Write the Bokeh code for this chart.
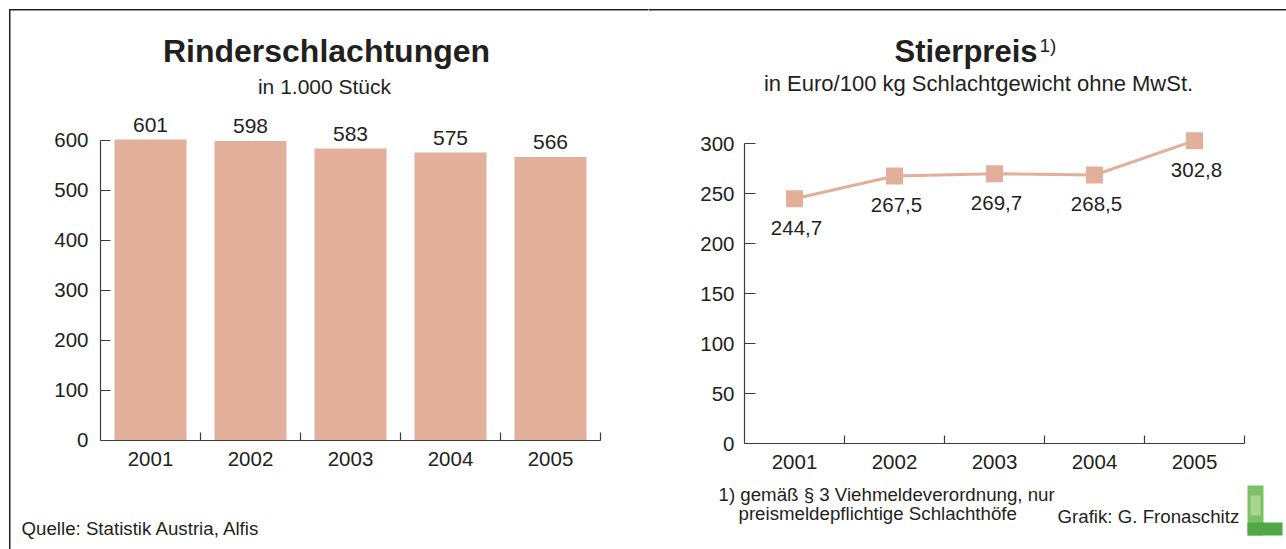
from bokeh.plotting import figure
from bokeh.layouts import row
from bokeh.models import Range1d, FixedTicker, Label, BoxAnnotation
from bokeh.core.properties import value
from bokeh.embed import file_html
from bokeh.resources import INLINE

# ---------------- data ----------------
years = [2001, 2002, 2003, 2004, 2005]
year_labels = ["2001", "2002", "2003", "2004", "2005"]
slaughter = [601, 598, 583, 575, 566]
slaughter_labels = ["601", "598", "583", "575", "566"]
price = [244.7, 267.5, 269.7, 268.5, 302.8]
price_labels = ["244,7", "267,5", "269,7", "268,5", "302,8"]
left_yticks = [0, 100, 200, 300, 400, 500, 600]
right_yticks = [0, 50, 100, 150, 200, 250, 300]

FONT = "Liberation Sans"
TXT = "#231f20"
SALMON = "#e2af9b"
AXIS = "#3d3d3d"
BORDER = "#222222"

PAGE_X0, PAGE_Y0 = 0, 0          # top-left of the layout on the page (Bokeh page has no body margin)
H = 549                          # figure height
W1, W2 = 648, 638                # figure widths


def make_fig(width, canvas_left, plot_left, plot_right, y0_page, px_per_unit):
    """Frame covers the whole canvas; ranges chosen so that the chart area
    (years[0]-0.5 .. years[-1]+0.5) sits between plot_left and plot_right (page px)."""
    xs = (plot_right - plot_left) / (len(years))           # px per year
    x_lo = years[0] - 0.5 - (plot_left - canvas_left) / xs
    x_hi = x_lo + width / xs
    y_top = (y0_page - PAGE_Y0) / px_per_unit
    y_bot = -(PAGE_Y0 + H - y0_page) / px_per_unit
    p = figure(width=width, height=H, output_backend="svg", toolbar_location=None,
               x_range=Range1d(x_lo, x_hi), y_range=Range1d(y_bot, y_top), min_border=0)
    p.title.visible = False
    p.outline_line_color = None
    p.xgrid.visible = False
    p.ygrid.visible = False
    p.background_fill_color = "white"
    p.border_fill_color = "white"
    return p


def style_axes(p, yticks, tick_in, y_standoff, x_standoff):
    xa = p.xaxis[0]
    xa.fixed_location = 0
    xa.bounds = (years[0] - 0.5, years[-1] + 0.5)
    xa.ticker = FixedTicker(ticks=years, minor_ticks=[y + 0.5 for y in years])
    xa.major_label_overrides = {y: l for y, l in zip(years, year_labels)}
    xa.major_tick_line_color = None
    xa.minor_tick_in = 8
    xa.minor_tick_out = 0
    xa.minor_tick_line_color = AXIS
    xa.minor_tick_line_width = 1.2
    xa.axis_line_color = AXIS
    xa.axis_line_width = 1.2
    xa.major_label_text_font = FONT
    xa.major_label_text_font_size = "20.5px"
    xa.major_label_text_color = TXT
    xa.major_label_standoff = x_standoff

    ya = p.yaxis[0]
    ya.fixed_location = years[0] - 0.5
    ya.ticker = FixedTicker(ticks=yticks)
    ya.bounds = (yticks[0], yticks[-1])
    ya.major_tick_in = tick_in
    ya.major_tick_out = 0
    ya.major_tick_line_color = AXIS
    ya.major_tick_line_width = 1.2
    ya.minor_tick_line_color = None
    ya.axis_line_color = AXIS
    ya.axis_line_width = 1.2
    ya.major_label_text_font = FONT
    ya.major_label_text_font_size = "20.5px"
    ya.major_label_text_color = TXT
    ya.major_label_standoff = y_standoff


def add_label(p, canvas_left, px, py, text, size, bold=False, align="left"):
    # px: page x; py: page y of the text's vertical middle -> frame (= canvas) screen units
    p.add_layout(Label(x=px - canvas_left, y=PAGE_Y0 + H - py, x_units="screen", y_units="screen",
                       text=text, text_font=FONT, text_font_size=size, text_color=TXT,
                       text_font_style="bold" if bold else "normal",
                       text_align=align, text_baseline="middle"))


def add_box(p, canvas_left, l, r, t, b, color):
    p.add_layout(BoxAnnotation(left=l - canvas_left, right=r - canvas_left,
                               top=PAGE_Y0 + H - t, bottom=PAGE_Y0 + H - b,
                               left_units="screen", right_units="screen",
                               top_units="screen", bottom_units="screen",
                               fill_color=color, fill_alpha=1, line_color=None))


# ---------------- left: Rinderschlachtungen ----------------
C1 = PAGE_X0
p1 = make_fig(W1, C1, 100, 600, 439.5, 0.5)
style_axes(p1, left_yticks, 10, 12, 6)
p1.vbar(x=years, top=slaughter, width=0.72, bottom=0, fill_color=SALMON, line_color=None)
p1.text(x=years, y=slaughter, text=slaughter_labels, text_align="center",
        text_baseline="middle", y_offset=-15, text_font=value(FONT),
        text_font_size="21px", text_color=TXT)

add_label(p1, C1, 326, 50.5, "Rinderschlachtungen", "32px", bold=True, align="center")
add_label(p1, C1, 324, 85.5, "in 1.000 Stück", "21px", align="center")
add_label(p1, C1, 21, 527.5, "Quelle: Statistik Austria, Alfis", "18.7px")
# frame border (left + top)
add_box(p1, C1, 8.5, 10, 8.5, PAGE_Y0 + H + 5, BORDER)
add_box(p1, C1, 8.5, C1 + W1 + 5, 8.5, 10, BORDER)

# ---------------- right: Stierpreis ----------------
C2 = PAGE_X0 + W1
p2 = make_fig(W2, C2, 744, 1244, 443, 1.0)
style_axes(p2, right_yticks, 11, 10, 5)
p2.line(x=years, y=price, line_color=SALMON, line_width=3)
p2.scatter(x=years, y=price, marker="square", size=17, fill_color=SALMON, line_color=None)
p2.text(x=years, y=price, text=price_labels, text_align="center",
        text_baseline="middle", x_offset=2, y_offset=29, text_font=value(FONT),
        text_font_size="20.5px", text_color=TXT)

add_label(p2, C2, 894, 51, "Stierpreis", "31px", bold=True)
add_label(p2, C2, 1039, 45, "1)", "19px")
add_label(p2, C2, 978, 82.5, "in Euro/100 kg Schlachtgewicht ohne MwSt.", "22px", align="center")
add_label(p2, C2, 718, 494, "1) gemäß § 3 Viehmeldeverordnung, nur", "18.7px")
add_label(p2, C2, 738, 513, "preismeldepflichtige Schlachthöfe", "18.7px")
add_label(p2, C2, 1057, 515.5, "Grafik: G. Fronaschitz", "18.7px")
add_box(p2, C2, C2 - 5, C2 + W2 + 5, 8.5, 10, BORDER)
# green "L" logo
add_box(p2, C2, 1247, 1263, 485, 535, "#7cc068")
add_box(p2, C2, 1250, 1260, 495, 515, "#a9d690")
add_box(p2, C2, 1247, 1282, 522, 535, "#4fa843")

layout = row(p1, p2)

open("out.html", "w").write(file_html(layout, INLINE))
